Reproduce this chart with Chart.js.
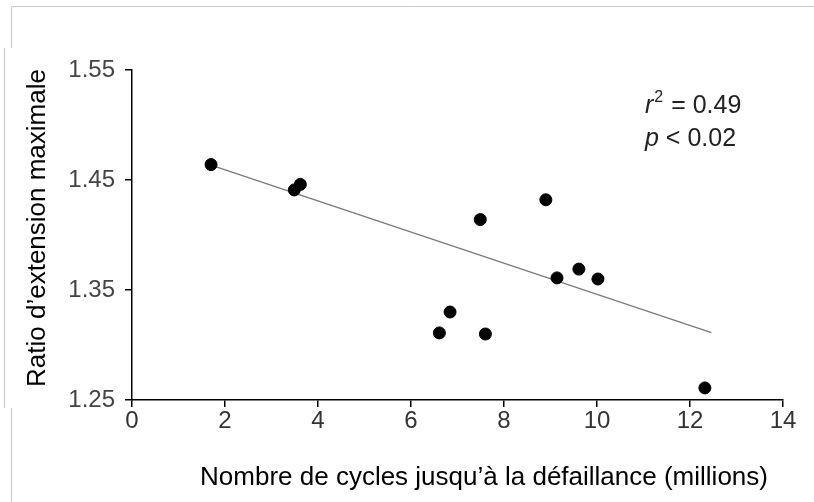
<!DOCTYPE html>
<html>
<head>
<meta charset="utf-8">
<script src="https://cdn.jsdelivr.net/npm/chart.js@4/dist/chart.umd.min.js"></script>
<style>
  html, body { margin: 0; padding: 0; background: #fff; }
  #wrap { position: relative; width: 814px; height: 502px; }
</style>
</head>
<body>
<div id="wrap"><canvas id="fatigueChart"></canvas></div>
<script>
// cycles to failure (millions) vs. maximum extension ratio
const cycles = [1.70, 3.49, 3.62, 6.61, 6.84, 7.49, 7.60, 8.90, 9.14, 9.61, 10.02, 12.32];
const ratio  = [1.464, 1.441, 1.446, 1.311, 1.330, 1.414, 1.310, 1.432, 1.361, 1.369, 1.360, 1.261];

// least squares line, end points
const fitX = [1.70, 12.46];
const fitY = [1.4636, 1.3112];

const xTicks = [0, 2, 4, 6, 8, 10, 12, 14];
const yTicks = [1.25, 1.35, 1.45, 1.55];

const xTitle = 'Nombre de cycles jusqu’à la défaillance (millions)';
const yTitle = 'Ratio d’extension maximale';

const FONT = "'Liberation Sans', Arial, Helvetica, sans-serif";

// thin grey frame lines around the figure
const framePlugin = {
    id: 'frame',
    beforeDraw(chart) {
        const ctx = chart.ctx;
        ctx.save();
        ctx.fillStyle = '#fff';
        ctx.fillRect(0, 0, chart.width, chart.height);
        ctx.strokeStyle = '#c9c9c9';
        ctx.lineWidth = 1;
        ctx.beginPath();
        ctx.moveTo(11.5, 502); ctx.lineTo(11.5, 408);
        ctx.moveTo(4.5, 408); ctx.lineTo(4.5, 48);
        ctx.moveTo(11.5, 48); ctx.lineTo(11.5, 6.5); ctx.lineTo(814, 6.5);
        ctx.stroke();
        ctx.restore();
    }
};

// axis titles (placed a little off-centre) and the r² / p note
const textPlugin = {
    id: 'texts',
    afterDraw(chart) {
        const ctx = chart.ctx;
        const a = chart.chartArea;
        ctx.save();
        ctx.fillStyle = '#000';
        ctx.font = '26px ' + FONT;
        ctx.textAlign = 'center';
        ctx.textBaseline = 'middle';
        ctx.fillText(xTitle, a.left + 352, 478);
        ctx.translate(38, a.top + 158);
        ctx.rotate(-Math.PI / 2);
        ctx.fillText(yTitle, 0, 0);
        ctx.setTransform(1, 0, 0, 1, 0, 0);

        const x0 = a.right - 138;
        ctx.fillStyle = '#222';
        ctx.textBaseline = 'alphabetic';
        ctx.textAlign = 'left';
        ctx.font = 'italic 25px ' + FONT;
        ctx.fillText('r', x0, a.top + 43);
        let w = ctx.measureText('r').width;
        ctx.font = '16px ' + FONT;
        ctx.fillText('2', x0 + w + 1, a.top + 32);
        w += ctx.measureText('2').width + 2;
        ctx.font = '25px ' + FONT;
        ctx.fillText(' = 0.49', x0 + w, a.top + 43);

        ctx.font = 'italic 25px ' + FONT;
        ctx.fillText('p', x0, a.top + 76);
        const wp = ctx.measureText('p').width;
        ctx.font = '25px ' + FONT;
        ctx.fillText(' < 0.02', x0 + wp, a.top + 76);
        ctx.restore();
    }
};

const ctx = document.getElementById('fatigueChart').getContext('2d');

const fatigueChart = new Chart(ctx, {
    type: 'scatter',
    data: {
        datasets: [{
            label: 'mesures',
            data: cycles.map((c, i) => ({ x: c, y: ratio[i] })),
            backgroundColor: '#000',
            borderColor: '#000',
            pointRadius: 6,
            pointHoverRadius: 6,
            order: 1
        }, {
            type: 'line',
            label: 'régression',
            data: fitX.map((c, i) => ({ x: c, y: fitY[i] })),
            borderColor: '#7a7a7a',
            borderWidth: 1.3,
            pointRadius: 0,
            fill: false,
            order: 2
        }]
    },
    options: {
        responsive: true,
        maintainAspectRatio: false,
        animation: false,
        layout: { padding: { top: 70, right: 31, bottom: 0, left: 0 } },
        plugins: {
            legend: { display: false },
            tooltip: { enabled: false }
        },
        scales: {
            x: {
                type: 'linear',
                min: 0,
                max: 14,
                afterBuildTicks: s => { s.ticks = xTicks.map(v => ({ value: v })); },
                afterFit: s => { s.height = 102; },
                grid: { drawOnChartArea: false, drawTicks: true, tickLength: 7, color: '#000', lineWidth: 1.5 },
                border: { display: true, color: '#000', width: 1.5 },
                ticks: { color: '#333', padding: 0, font: { family: FONT, size: 24 } },
                title: { display: false }
            },
            y: {
                type: 'linear',
                min: 1.25,
                max: 1.55,
                afterBuildTicks: s => { s.ticks = yTicks.map(v => ({ value: v })); },
                afterFit: s => { s.width = 132; },
                grid: { drawOnChartArea: false, drawTicks: true, tickLength: 7, color: '#000', lineWidth: 1.5 },
                border: { display: true, color: '#000', width: 1.5 },
                ticks: {
                    color: '#444',
                    padding: 10,
                    font: { family: FONT, size: 24 },
                    callback: v => v.toFixed(2)
                },
                title: { display: false }
            }
        }
    },
    plugins: [framePlugin, textPlugin]
});
</script>
</body>
</html>
